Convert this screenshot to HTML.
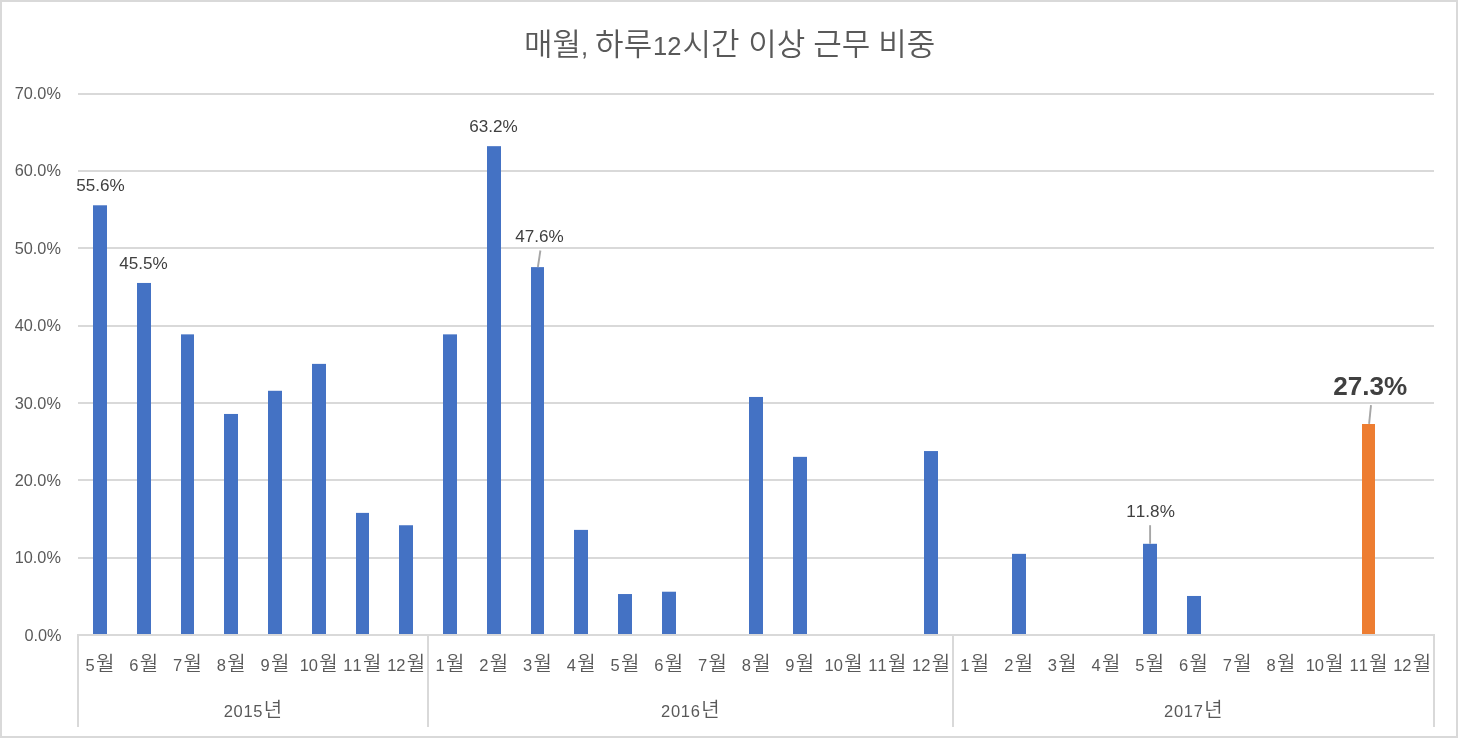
<!DOCTYPE html>
<html lang="ko"><head><meta charset="utf-8"><title>매월, 하루12시간 이상 근무 비중</title>
<style>
html,body{margin:0;padding:0;background:#fff;}
body{width:1458px;height:738px;overflow:hidden;}
svg{display:block;will-change:transform;}
text{font-family:"Liberation Sans","Noto Sans CJK KR",sans-serif;}
.n{font-family:"Liberation Sans",sans-serif;font-size:16.5px;font-kerning:none;}
.k{font-family:"Noto Sans CJK KR","NanumGothic",sans-serif;font-size:20px;font-weight:350;}
.ax{fill:#595959;}
.dl{fill:#404040;}
.tk{font-family:"Noto Sans CJK KR","NanumGothic",sans-serif;font-size:31px;font-weight:350;}
.tn{font-family:"Liberation Sans",sans-serif;font-size:25.5px;}
.big{font-family:"Liberation Sans",sans-serif;font-size:26.1px;font-weight:bold;fill:#404040;}
</style></head><body>
<svg width="1458" height="738" viewBox="0 0 1458 738">
<rect x="0" y="0" width="1458" height="738" fill="#ffffff"/>
<rect x="1" y="1" width="1456" height="736" fill="none" stroke="#d9d9d9" stroke-width="2" shape-rendering="crispEdges"/>
<g fill="#d9d9d9" shape-rendering="crispEdges">
<rect x="78" y="93" width="1356" height="2"/>
<rect x="78" y="170" width="1356" height="2"/>
<rect x="78" y="247" width="1356" height="2"/>
<rect x="78" y="325" width="1356" height="2"/>
<rect x="78" y="402" width="1356" height="2"/>
<rect x="78" y="479" width="1356" height="2"/>
<rect x="78" y="557" width="1356" height="2"/>
</g>
<g fill="#4472c4">
<rect x="93" y="205.29" width="14" height="428.71"/>
<rect x="137" y="282.96" width="14" height="351.04"/>
<rect x="181" y="334.36" width="13" height="299.64"/>
<rect x="224" y="413.96" width="14" height="220.04"/>
<rect x="268" y="390.78" width="14" height="243.22"/>
<rect x="312" y="363.88" width="14" height="270.12"/>
<rect x="356" y="512.89" width="13" height="121.11"/>
<rect x="399" y="525.25" width="14" height="108.75"/>
<rect x="443" y="334.36" width="14" height="299.64"/>
<rect x="487" y="146.17" width="14" height="487.83"/>
<rect x="531" y="267.12" width="13" height="366.88"/>
<rect x="574" y="529.89" width="14" height="104.11"/>
<rect x="618" y="594.04" width="14" height="39.96"/>
<rect x="662" y="591.72" width="14" height="42.28"/>
<rect x="749" y="396.96" width="14" height="237.04"/>
<rect x="793" y="456.86" width="14" height="177.14"/>
<rect x="924" y="451.06" width="14" height="182.94"/>
<rect x="1012" y="553.85" width="14" height="80.15"/>
<rect x="1143" y="543.80" width="14" height="90.20"/>
<rect x="1187" y="595.97" width="14" height="38.03"/>
<rect x="1362" y="424.01" width="13" height="209.99" fill="#ed7d31"/>
</g>
<g fill="#d9d9d9" shape-rendering="crispEdges">
<rect x="77" y="634" width="1358" height="2"/>
<rect x="77" y="635" width="2" height="92"/>
<rect x="427" y="635" width="2" height="92"/>
<rect x="952" y="635" width="2" height="92"/>
<rect x="1433" y="635" width="2" height="92"/>
</g>
<g stroke="#a6a6a6" stroke-width="1.9" fill="none">
<line x1="540.4" y1="250.5" x2="537.9" y2="267"/>
<line x1="1150.1" y1="525.2" x2="1150.1" y2="543.8"/>
<line x1="1371.0" y1="405.2" x2="1369.1" y2="423.8"/>
</g>
<text x="523.9" y="55.1" class="ax"><tspan class="tk">매월</tspan><tspan class="tn">, </tspan><tspan class="tk">하루</tspan><tspan class="tn" dx="0.8">12</tspan><tspan class="tk" dx="1.2">시간</tspan><tspan class="tk"> 이상</tspan><tspan class="tk" dx="-0.7"> 근무</tspan><tspan class="tk" dx="-0.8"> 비중</tspan></text>
<g class="ax n" text-anchor="end" style="font-size:16.3px">
<text x="61.5" y="640.6">0.0%</text>
<text x="60.9" y="563.3">10.0%</text>
<text x="60.9" y="486.0">20.0%</text>
<text x="60.9" y="408.7">30.0%</text>
<text x="60.9" y="331.2">40.0%</text>
<text x="60.9" y="253.6">50.0%</text>
<text x="60.9" y="176.1">60.0%</text>
<text x="60.9" y="98.5">70.0%</text>
</g>
<g class="ax" text-anchor="middle">
<text x="100.0" y="671"><tspan class="n">5</tspan><tspan class="k" dx="1.3">월</tspan></text>
<text x="143.7" y="671"><tspan class="n">6</tspan><tspan class="k" dx="1.3">월</tspan></text>
<text x="187.5" y="671"><tspan class="n">7</tspan><tspan class="k" dx="1.3">월</tspan></text>
<text x="231.2" y="671"><tspan class="n">8</tspan><tspan class="k" dx="1.3">월</tspan></text>
<text x="274.9" y="671"><tspan class="n">9</tspan><tspan class="k" dx="1.3">월</tspan></text>
<text x="318.7" y="671"><tspan class="n">10</tspan><tspan class="k" dx="1.3">월</tspan></text>
<text x="362.4" y="671"><tspan class="n">11</tspan><tspan class="k" dx="1.3">월</tspan></text>
<text x="406.2" y="671"><tspan class="n">12</tspan><tspan class="k" dx="1.3">월</tspan></text>
<text x="449.9" y="671"><tspan class="n">1</tspan><tspan class="k" dx="1.3">월</tspan></text>
<text x="493.6" y="671"><tspan class="n">2</tspan><tspan class="k" dx="1.3">월</tspan></text>
<text x="537.4" y="671"><tspan class="n">3</tspan><tspan class="k" dx="1.3">월</tspan></text>
<text x="581.1" y="671"><tspan class="n">4</tspan><tspan class="k" dx="1.3">월</tspan></text>
<text x="624.9" y="671"><tspan class="n">5</tspan><tspan class="k" dx="1.3">월</tspan></text>
<text x="668.6" y="671"><tspan class="n">6</tspan><tspan class="k" dx="1.3">월</tspan></text>
<text x="712.4" y="671"><tspan class="n">7</tspan><tspan class="k" dx="1.3">월</tspan></text>
<text x="756.1" y="671"><tspan class="n">8</tspan><tspan class="k" dx="1.3">월</tspan></text>
<text x="799.8" y="671"><tspan class="n">9</tspan><tspan class="k" dx="1.3">월</tspan></text>
<text x="843.6" y="671"><tspan class="n">10</tspan><tspan class="k" dx="1.3">월</tspan></text>
<text x="887.3" y="671"><tspan class="n">11</tspan><tspan class="k" dx="1.3">월</tspan></text>
<text x="931.1" y="671"><tspan class="n">12</tspan><tspan class="k" dx="1.3">월</tspan></text>
<text x="974.8" y="671"><tspan class="n">1</tspan><tspan class="k" dx="1.3">월</tspan></text>
<text x="1018.6" y="671"><tspan class="n">2</tspan><tspan class="k" dx="1.3">월</tspan></text>
<text x="1062.3" y="671"><tspan class="n">3</tspan><tspan class="k" dx="1.3">월</tspan></text>
<text x="1106.0" y="671"><tspan class="n">4</tspan><tspan class="k" dx="1.3">월</tspan></text>
<text x="1149.8" y="671"><tspan class="n">5</tspan><tspan class="k" dx="1.3">월</tspan></text>
<text x="1193.5" y="671"><tspan class="n">6</tspan><tspan class="k" dx="1.3">월</tspan></text>
<text x="1237.3" y="671"><tspan class="n">7</tspan><tspan class="k" dx="1.3">월</tspan></text>
<text x="1281.0" y="671"><tspan class="n">8</tspan><tspan class="k" dx="1.3">월</tspan></text>
<text x="1324.7" y="671"><tspan class="n">10</tspan><tspan class="k" dx="1.3">월</tspan></text>
<text x="1368.5" y="671"><tspan class="n">11</tspan><tspan class="k" dx="1.3">월</tspan></text>
<text x="1412.2" y="671"><tspan class="n">12</tspan><tspan class="k" dx="1.3">월</tspan></text>
<text x="252.9" y="717"><tspan class="n" letter-spacing="0.7">2015</tspan><tspan class="k" dx="0.6">년</tspan></text>
<text x="690.3" y="717"><tspan class="n" letter-spacing="0.7">2016</tspan><tspan class="k" dx="0.6">년</tspan></text>
<text x="1193.3" y="717"><tspan class="n" letter-spacing="0.7">2017</tspan><tspan class="k" dx="0.6">년</tspan></text>
</g>
<g class="dl n" text-anchor="middle" style="font-size:17.1px">
<text x="100.4" y="190.9">55.6%</text>
<text x="143.4" y="269.0">45.5%</text>
<text x="493.5" y="132.2">63.2%</text>
<text x="539.4" y="242.2">47.6%</text>
<text x="1150.6" y="516.8">11.8%</text>
</g>
<text x="1370.3" y="395.1" text-anchor="middle" class="big">27.3%</text>
</svg>
</body></html>
